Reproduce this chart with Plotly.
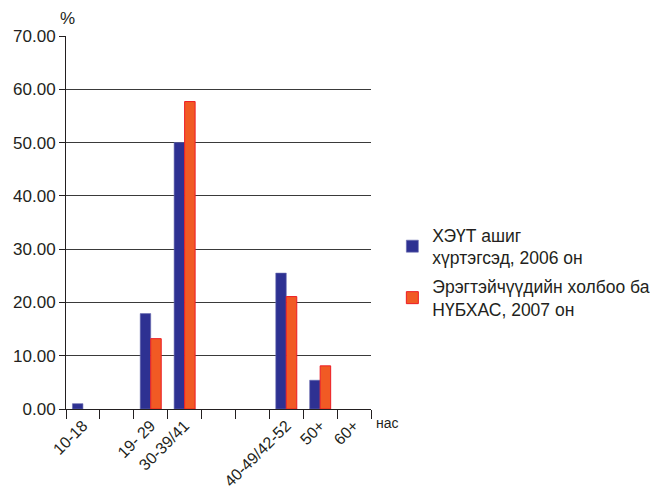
import plotly.graph_objects as go

slots = ["10-18", "", "19- 29", "30-39/41", "", "", "40-49/42-52", "50+", "60+"]
series1_name = "ХЭҮТ ашиг<br>хүртэгсэд, 2006 он"
series2_name = "Эрэгтэйчүүдийн холбоо ба<br>НҮБХАС, 2007 он"
series1 = [1.0, None, 17.9, 50.0, None, None, 25.5, 5.4, None]
series2 = [None, None, 13.2, 57.7, None, None, 21.1, 8.1, None]
y_ticks = [0, 10, 20, 30, 40, 50, 60, 70]

xpos = list(range(len(slots)))
label_pos = [i for i, s in enumerate(slots) if s]
label_txt = [s for s in slots if s]
bounds = [i - 0.5 for i in range(len(slots) + 1)]

font = "Liberation Sans, Arial, sans-serif"

fig = go.Figure()
fig.add_trace(go.Bar(x=xpos, y=series1, name=series1_name, legendgroup="a",
                     marker=dict(color="#2e3192", line=dict(color="#6a6cb0", width=0.6))))
fig.add_trace(go.Bar(x=xpos, y=series2, name=series2_name, legendgroup="b",
                     marker=dict(color="#f15a24", line=dict(color="#ed1c24", width=1))))

fig.update_layout(
    width=650, height=483,
    margin=dict(l=58, r=287, t=28, b=82, autoexpand=False),
    paper_bgcolor="white", plot_bgcolor="white",
    barmode="group", bargap=0.38, bargroupgap=0,
    font=dict(family=font, size=15, color="#231f20"),
    legend=dict(x=1.07, y=0.515, xanchor="left", yanchor="top",
                font=dict(size=17.5), tracegroupgap=3, itemwidth=30),
    showlegend=True,
)
fig.update_xaxes(
    range=[-0.5, len(slots) - 0.5], automargin=False,
    tickmode="array", tickvals=label_pos, ticktext=label_txt,
    tickangle=-45, ticks="", showgrid=False,
    showline=True, linecolor="#231f20", linewidth=1,
    tickfont=dict(size=16),
    minor=dict(tickmode="array", tickvals=bounds, ticks="outside",
               ticklen=9, tickcolor="#231f20", tickwidth=1, showgrid=False),
)
fig.update_yaxes(
    range=[0, 70], tickmode="array", tickvals=y_ticks, automargin=False,
    tickformat=".2f", ticks="outside", ticklen=6, tickcolor="#231f20",
    showgrid=True, gridcolor="#3a3a3a", gridwidth=1,
    showline=True, linecolor="#231f20", linewidth=1,
    zeroline=False, tickfont=dict(size=17),
)
fig.add_annotation(text="%", xref="paper", yref="paper", x=0.035, y=1.015,
                   xanchor="right", yanchor="bottom", showarrow=False,
                   font=dict(size=17))
fig.add_annotation(text="нас", xref="paper", yref="paper", x=1.01, y=-0.01,
                   xanchor="left", yanchor="top", showarrow=False,
                   font=dict(size=14))

fig.write_html("out.html")
